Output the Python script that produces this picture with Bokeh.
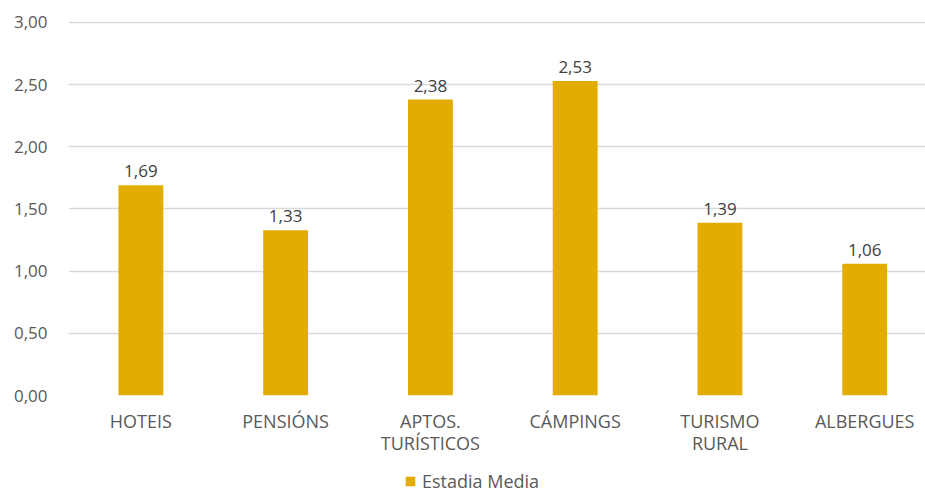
from bokeh.plotting import figure
from bokeh.layouts import column
from bokeh.models import ColumnDataSource, Range1d, FixedTicker, Legend, LegendItem, CustomJSTickFormatter
from bokeh.core.properties import value
from bokeh.embed import file_html
from bokeh.resources import INLINE

categories = ["HOTEIS", "PENSIÓNS", "APTOS.\nTURÍSTICOS", "CÁMPINGS", "TURISMO\nRURAL", "ALBERGUES"]
values = [1.69, 1.33, 2.38, 2.53, 1.39, 1.06]
series_name = "Estadia Media"
y_ticks = [0.0, 0.5, 1.0, 1.5, 2.0, 2.5, 3.0]

FONT = "Open Sans"
FS = "17px"
FS_CAT = "18px"
BAR = "#E3AC00"
TXT = "#595959"

xs = list(range(len(categories)))
labels = [f"{v:.2f}".replace(".", ",") for v in values]
src = ColumnDataSource(dict(x=xs, top=values, lab=labels))

p = figure(width=925, height=468, output_backend="svg", toolbar_location=None,
           x_range=Range1d(-0.5, 5.42), y_range=Range1d(0, 3.008),
           min_border_left=68, min_border_right=0, min_border_top=21, min_border_bottom=73)
p.outline_line_color = None
p.background_fill_color = "white"
p.border_fill_color = "white"

r = p.vbar(x="x", top="top", width=0.31, source=src, fill_color=BAR, line_color=None)
p.text(x="x", y="top", text="lab", source=src, text_align="center", text_baseline="bottom",
       y_offset=-8, text_font=value(FONT), text_font_size=FS, text_color="#404040")

p.xgrid.grid_line_color = None
p.ygrid.grid_line_color = "#D9D9D9"
p.ygrid.grid_line_width = 1.5
p.ygrid.ticker = FixedTicker(ticks=y_ticks)

p.yaxis.ticker = FixedTicker(ticks=y_ticks)
p.yaxis.formatter = CustomJSTickFormatter(code="return tick.toFixed(2).replace('.', ',');")
p.yaxis.axis_line_color = None
p.yaxis.major_tick_line_color = None
p.yaxis.minor_tick_line_color = None
p.yaxis.major_label_standoff = 15
p.yaxis.major_label_text_font = FONT
p.yaxis.major_label_text_font_size = FS
p.yaxis.major_label_text_color = TXT

p.xaxis.ticker = FixedTicker(ticks=xs)
p.xaxis.major_label_overrides = {i: c for i, c in zip(xs, categories)}
p.xaxis.axis_line_color = None
p.xaxis.major_tick_line_color = None
p.xaxis.minor_tick_line_color = None
p.xaxis.major_label_standoff = 7
p.xaxis.major_label_text_font = FONT
p.xaxis.major_label_text_font_size = FS_CAT
p.xaxis.major_label_text_color = TXT
p.xaxis.major_label_text_line_height = 0.95

# legend strip (its frame is aligned with the main plot's frame by the column layout)
lg = figure(width=925, height=25, output_backend="svg", toolbar_location=None,
            x_range=Range1d(0, 1), y_range=Range1d(0, 1),
            min_border_left=0, min_border_right=0, min_border_top=0, min_border_bottom=0)
lg.axis.visible = False
lg.grid.visible = False
lg.outline_line_color = None
lg.title.visible = False
dummy = lg.vbar(x=[0.5], top=[0], bottom=[0], width=0.3, fill_color=BAR, line_color=None)
legend = Legend(items=[LegendItem(label=series_name, renderers=[dummy])],
                location=(336, 0), orientation="horizontal",
                border_line_color=None, background_fill_alpha=0,
                padding=0, margin=0, glyph_width=12, glyph_height=12,
                label_standoff=6, label_text_font=FONT, label_text_font_size=FS_CAT,
                label_text_color=TXT, label_height=20)
lg.add_layout(legend, "center")

layout = column(p, lg, spacing=0)
open("out.html", "w").write(file_html(layout, INLINE))
